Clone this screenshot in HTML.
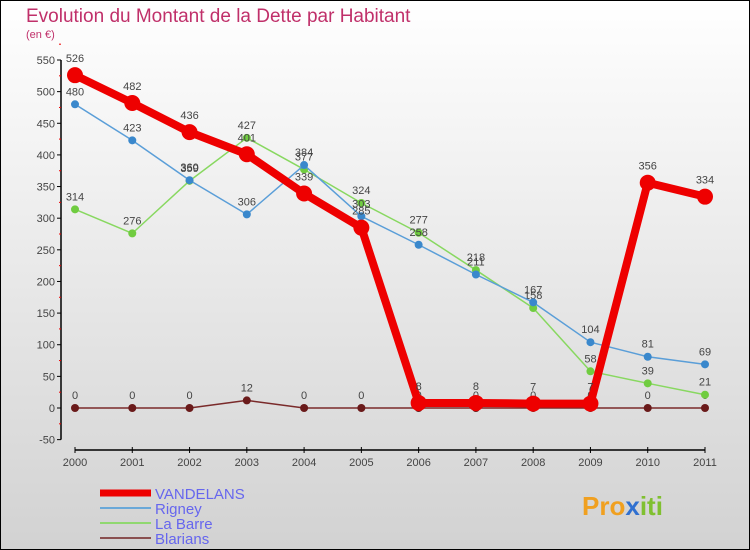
<!DOCTYPE html>
<html><head><meta charset="utf-8"><style>
body{margin:0;width:750px;height:550px;overflow:hidden;font-family:"Liberation Sans","DejaVu Sans",sans-serif}
svg{display:block}
</style></head><body>
<svg id="chart" width="750" height="550" xmlns="http://www.w3.org/2000/svg">
<defs><linearGradient id="bg" x1="0" y1="0" x2="0" y2="1"><stop offset="0" stop-color="#ffffff"/><stop offset="1" stop-color="#d2d2d2"/></linearGradient></defs>
<rect x="0.5" y="0.5" width="749" height="549" fill="url(#bg)" stroke="#000"/>
<text x="26" y="22" font-size="19" fill="#c0306a">Evolution du Montant de la Dette par Habitant</text>
<text x="26" y="38" font-size="11" fill="#c0306a">(en €)</text>
<g id="axes"></g><g id="series"></g><g id="legend"></g>
<text x="582" y="515" font-size="26" font-weight="bold" fill="#f0a020">Pro<tspan fill="#3070d0">x</tspan><tspan fill="#80c030">iti</tspan></text>
</svg>
<script>
const years=["2000","2001","2002","2003","2004","2005","2006","2007","2008","2009","2010","2011"];
const vandelans=[526,482,436,401,339,285,8,8,7,7,356,334];
const rigney=[480,423,360,306,384,303,258,211,167,104,81,69];
const laBarre=[314,276,359,427,377,324,277,218,158,58,39,21];
const blarians=[0,0,0,12,0,0,0,0,0,0,0,0];
const yTicks=[-50,0,50,100,150,200,250,300,350,400,450,500,550];
const NS="http://www.w3.org/2000/svg";
function X(i){return 75+i*(630/11);}
function Y(v){return 408-v*(348/550);}
function mk(tag,attrs,parent){const e=document.createElementNS(NS,tag);for(const k in attrs)e.setAttribute(k,attrs[k]);parent.appendChild(e);return e;}
const axes=document.getElementById('axes');
const ya=mk('line',{x1:61,y1:Y(550),x2:61,y2:Y(-50),stroke:'#000','stroke-width':1.5},axes);


yTicks.forEach(t=>{
 const l=mk('line',{x1:57,x2:61,y1:Y(t),y2:Y(t),stroke:'#000'},axes);
 
 
 const m=mk('line',{x1:59,x2:61,y1:Y(t+25),y2:Y(t+25),stroke:'#e00'},axes);
 
 
 const tx=mk('text',{x:55,y:Y(t)+4,'text-anchor':'end','font-size':11,fill:'#444'},axes);tx.textContent=t;
 
 
});
const xa=mk('line',{x1:X(0),y1:450,x2:X(11),y2:450,stroke:'#000','stroke-width':1.5},axes);


years.forEach((y,i)=>{
 const l=mk('line',{x1:X(i),x2:X(i),y1:447,y2:453,stroke:'#000'},axes);
 
 
 const tx=mk('text',{x:X(i),y:466,'text-anchor':'middle','font-size':11,fill:'#444'},axes);tx.textContent=y;
 
 
});
const ser=document.getElementById('series');
const defs=[
 {name:'blarians',data:blarians,color:'#7a2a2a',dot:'#6a1a1a',w:1.5,r:4,label:'Blarians'},
 {name:'la-barre',data:laBarre,color:'#88d860',dot:'#70cc40',w:1.5,r:4,label:'La Barre'},
 {name:'rigney',data:rigney,color:'#5a9ed8',dot:'#3a88cc',w:1.5,r:4,label:'Rigney'},
 {name:'vandelans',data:vandelans,color:'#ee0000',dot:'#ee0000',w:8,r:8,label:'VANDELANS'}
];
defs.forEach(s=>{
 const pts=s.data.map((v,i)=>X(i)+','+Y(v)).join(' ');
 const pl=mk('polyline',{points:pts,fill:'none',stroke:s.color,'stroke-width':s.w,'stroke-linejoin':'round'},ser);
 
 
 s.data.forEach((v,i)=>{
  const c=mk('circle',{cx:X(i),cy:Y(v),r:s.r,fill:s.dot},ser);
  
  
  const t=mk('text',{x:X(i),y:Y(v)-(s.r+5),'text-anchor':'middle','font-size':11,fill:'#444'},ser);t.textContent=v;
  
  
 });
});
const lg=document.getElementById('legend');
[['vandelans','#ee0000',7,'VANDELANS',493],['rigney','#6aa8d8',2,'Rigney',508],['la-barre','#90d870',2,'La Barre',523],['blarians','#8a5050',2,'Blarians',538]].forEach(e=>{
 const l=mk('line',{x1:100,x2:151,y1:e[4],y2:e[4],stroke:e[1],'stroke-width':e[2]},lg);
 
 
 const t=mk('text',{x:155,y:e[4]+6,'font-size':15,fill:'#6666ee'},lg);t.textContent=e[3];
 
 
});
</script>
</body></html>
